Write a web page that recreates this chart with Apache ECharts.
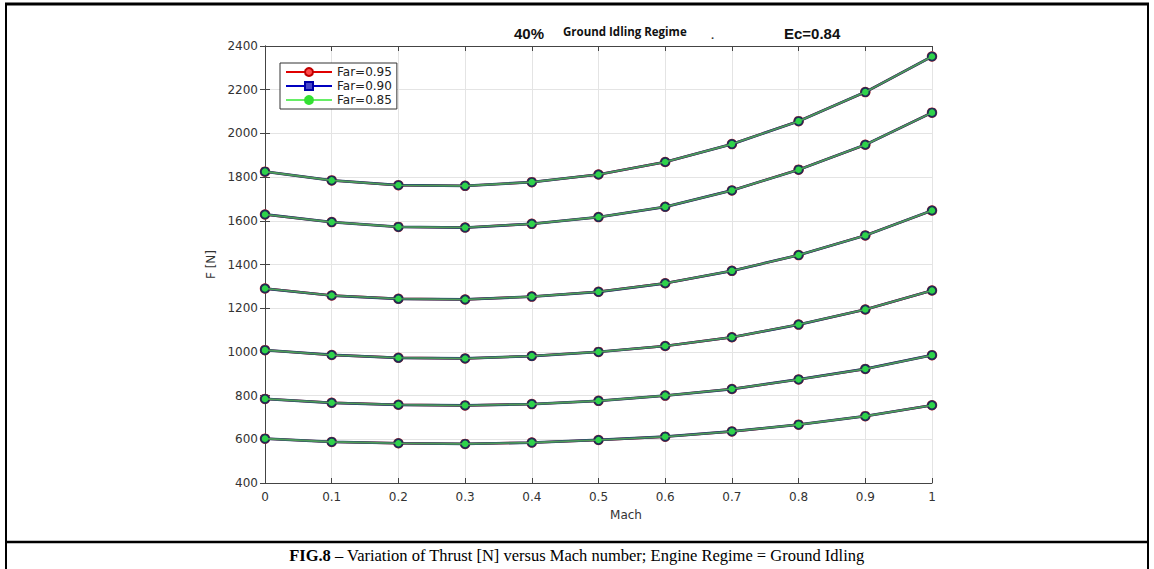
<!DOCTYPE html>
<html>
<head>
<meta charset="utf-8">
<title>FIG.8 Thrust vs Mach</title>
<script src="https://cdn.jsdelivr.net/npm/echarts@6/dist/echarts.min.js"></script>
<style>
    html, body { margin: 0; padding: 0; background: #fff; }
    #main { width: 1154px; height: 569px; }
</style>
</head>
<body>
<div id="main"></div>
<script>
// Mach number (x axis)
var mach = [0, 0.1, 0.2, 0.3, 0.4, 0.5, 0.6, 0.7, 0.8, 0.9, 1];

// thrust F [N], six curves (top to bottom)
var thrust1 = [1825, 1785, 1763, 1760, 1777, 1812, 1869, 1951, 2056, 2189, 2352];
var thrust2 = [1629, 1594, 1572, 1569, 1586, 1617, 1664, 1739, 1834, 1948, 2095];
var thrust3 = [1290, 1258, 1243, 1240, 1253, 1275, 1314, 1371, 1443, 1533, 1647];
var thrust4 = [1008, 986, 973, 970, 981, 1000, 1027, 1067, 1125, 1194, 1281];
var thrust5 = [785, 767, 758, 755, 761, 776, 800, 830, 874, 922, 985];
var thrust6 = [603, 588, 582, 579, 585, 597, 612, 636, 667, 706, 756];
var curves = [thrust1, thrust2, thrust3, thrust4, thrust5, thrust6];

// the three Far cases lie on top of each other
var farNames = ['Far=0.95', 'Far=0.90', 'Far=0.85'];

var yTicks = [400, 2400, 200];   // min, max, step
var xTicks = [0, 1, 0.1];

// legend look of each Far case (MATLAB style ro- / bs- / g*-)
var legendStyle = [
    { sym: 'circle', line: '#e00000', lw: 2.5, fill: '#ff4a4a', border: '#c00000' },
    { sym: 'rect', line: '#0000c0', lw: 2.5, fill: '#4848c8', border: '#0000a8' },
    { sym: 'circle', line: '#66ee66', lw: 1.5, fill: '#33e033', border: '#33e033' }
];

// plot styles per Far case (drawn in this order, green last on top)
var farStyle = [
    { line: '#c82020', lw: 2.4, size: 10.5, fill: '#d83030' },
    { line: '#26406e', lw: 2.7, size: 10, fill: '#1f2c55' },
    { line: '#4f9c58', lw: 1.6, size: 6.5, fill: '#2fd24a' }
];

var series = [];
// empty series first, only so that the legend gets the right icons
for (var k = 0; k < farNames.length; k++) {
    series.push({
        name: farNames[k],
        type: 'line',
        data: [],
        symbol: legendStyle[k].sym,
        lineStyle: { color: legendStyle[k].line, width: legendStyle[k].lw },
        itemStyle: { color: legendStyle[k].fill, borderColor: legendStyle[k].border, borderWidth: 1.2 }
    });
}
for (var f = 0; f < farNames.length; f++) {
    for (var c = 0; c < curves.length; c++) {
        series.push({
            name: farNames[f],
            type: 'line',
            data: mach.map(function (m, i) { return [m, curves[c][i]]; }),
            symbol: 'circle',
            symbolSize: farStyle[f].size,
            showSymbol: true,
            lineStyle: { color: farStyle[f].line, width: farStyle[f].lw },
            itemStyle: { color: farStyle[f].fill, borderWidth: 0 },
            z: 2 + f,
            animation: false,
            silent: true
        });
    }
}

var axisCol = '#444';
var noComma = function (v) { return String(v); };

var option = {
    backgroundColor: '#fff',
    grid: { left: 265, right: 222, top: 46, bottom: 86, containLabel: false },
    legend: {
        orient: 'vertical',
        left: 280,
        top: 63,
        padding: [3, 5, 3, 5],
        itemGap: 2,
        itemWidth: 46,
        itemHeight: 10,
        backgroundColor: '#fff',
        borderColor: '#333',
        borderWidth: 1,
        textStyle: { fontFamily: 'DejaVu Sans', fontSize: 12, lineHeight: 12, color: '#222' },
        data: farNames
    },
    xAxis: [{
        type: 'value',
        position: 'bottom',
        min: xTicks[0], max: xTicks[1], interval: xTicks[2],
        name: 'Mach',
        nameLocation: 'middle',
        nameGap: 26,
        nameTextStyle: { fontFamily: 'DejaVu Sans', fontSize: 12, color: '#333', padding: [0, 0, 0, 55] },
        axisLine: { show: true, lineStyle: { color: axisCol, width: 1 } },
        axisTick: { show: true, inside: true, length: 5, lineStyle: { color: axisCol } },
        axisLabel: { fontFamily: 'DejaVu Sans', fontSize: 12, color: '#333', formatter: noComma },
        splitLine: { show: true, lineStyle: { color: '#e4e4e4', width: 1 } }
    }, {
        type: 'value',
        position: 'top',
        min: xTicks[0], max: xTicks[1], interval: xTicks[2],
        axisLine: { show: true, lineStyle: { color: axisCol, width: 1 } },
        axisTick: { show: true, inside: true, length: 5, lineStyle: { color: axisCol } },
        axisLabel: { show: false },
        splitLine: { show: false }
    }],
    yAxis: [{
        type: 'value',
        position: 'left',
        min: yTicks[0], max: yTicks[1], interval: yTicks[2],
        name: 'F [N]',
        nameLocation: 'middle',
        nameGap: 46,
        nameTextStyle: { fontFamily: 'DejaVu Sans', fontSize: 12, color: '#333' },
        axisLine: { show: true, lineStyle: { color: axisCol, width: 1 } },
        axisTick: { show: true, inside: true, length: 5, lineStyle: { color: axisCol } },
        axisLabel: { fontFamily: 'DejaVu Sans', fontSize: 12, color: '#333', margin: 7, formatter: noComma },
        splitLine: { show: true, lineStyle: { color: '#e4e4e4', width: 1 } }
    }, {
        type: 'value',
        position: 'right',
        min: yTicks[0], max: yTicks[1], interval: yTicks[2],
        axisLine: { show: true, lineStyle: { color: axisCol, width: 1 } },
        axisTick: { show: true, inside: true, length: 5, lineStyle: { color: axisCol } },
        axisLabel: { show: false },
        splitLine: { show: false }
    }],
    graphic: [
        // table frame round the figure
        { type: 'line', shape: { x1: 5, y1: 4, x2: 1149, y2: 4 }, style: { stroke: '#000', lineWidth: 3 } },
        { type: 'line', shape: { x1: 6, y1: 3, x2: 6, y2: 569 }, style: { stroke: '#000', lineWidth: 2 } },
        { type: 'line', shape: { x1: 1148, y1: 3, x2: 1148, y2: 569 }, style: { stroke: '#000', lineWidth: 2 } },
        { type: 'line', shape: { x1: 5, y1: 542, x2: 1149, y2: 542 }, style: { stroke: '#000', lineWidth: 2.5 } },
        // header texts above the plot
        { type: 'text', left: 514, top: 26, style: { text: '40%', font: 'bold 15px "Liberation Sans"', fill: '#111' } },
        { type: 'text', left: 563, top: 25, style: { text: 'Ground Idling Regime', font: 'bold 11.5px "Open Sans"', fill: '#111' } },
        { type: 'text', left: 711, top: 29, style: { text: '.', font: 'bold 11px "Open Sans"', fill: '#333' } },
        { type: 'text', left: 784, top: 26, style: { text: 'Ec=0.84', font: 'bold 15px "Liberation Sans"', fill: '#111' } },
        // caption
        {
            type: 'text', left: 'center', top: 547,
            style: {
                text: '{b|FIG.8} – Variation of Thrust [N] versus Mach number; Engine Regime = Ground Idling',
                font: '16.5px "Liberation Serif"',
                fill: '#000',
                rich: { b: { font: 'bold 16.5px "Liberation Serif"', fill: '#000' } }
            }
        }
    ],
    series: series
};

//初始化echarts实例
var myChart = echarts.init(document.getElementById('main'), null, { renderer: 'svg' });
myChart.setOption(option);
</script>
</body>
</html>
